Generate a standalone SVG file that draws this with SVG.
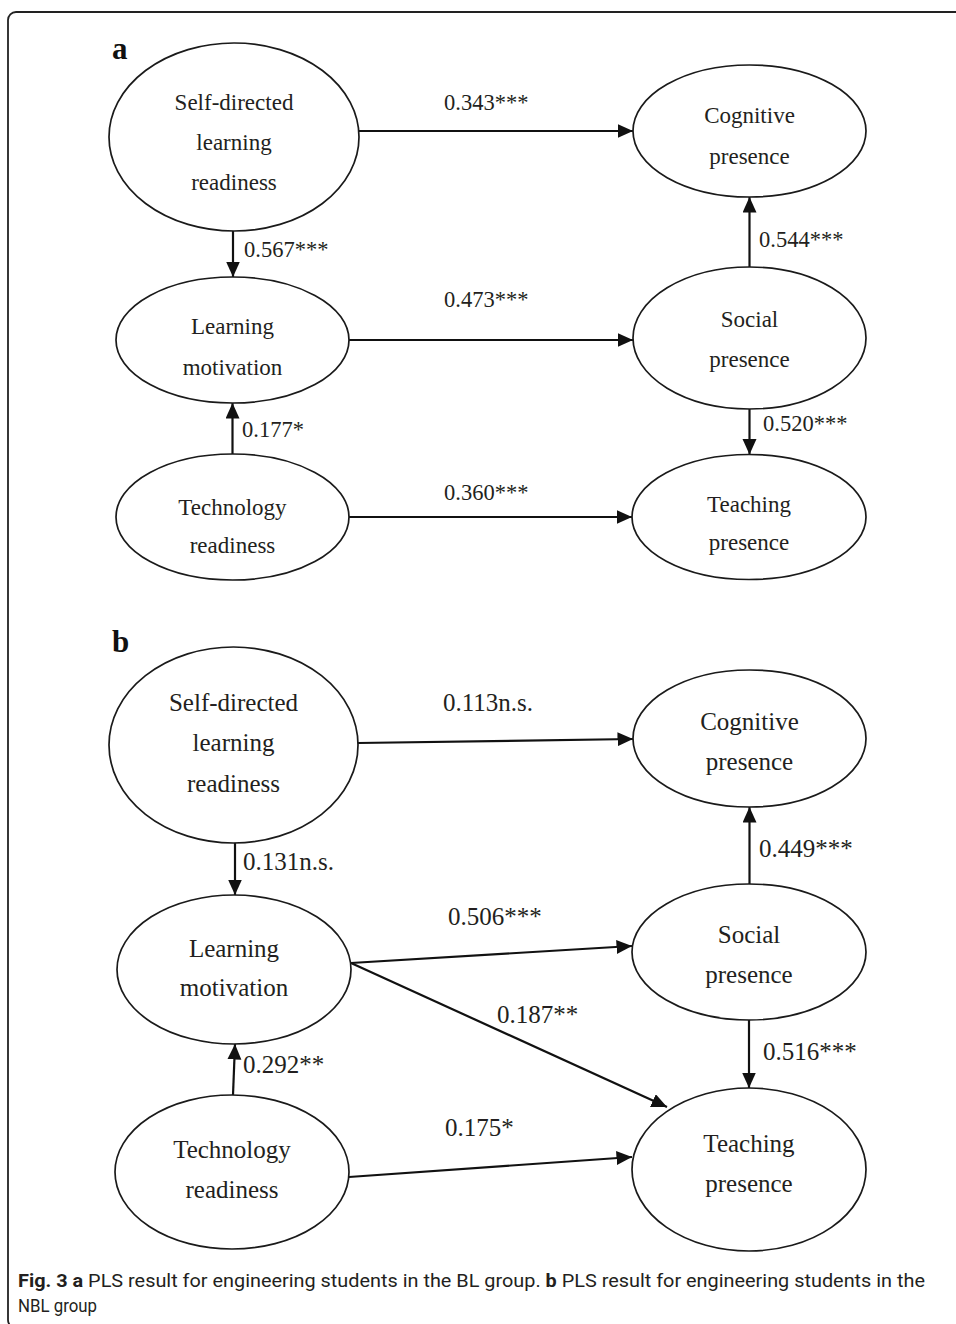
<svg xmlns="http://www.w3.org/2000/svg" width="956" height="1324" viewBox="0 0 956 1324">
<style>
.bg{fill:#ffffff}
.frame{fill:none;stroke:#222222;stroke-width:1.8}
.node{fill:#ffffff;stroke:#1a1a1a;stroke-width:1.7}
.na{font-family:"Liberation Serif","Times New Roman",serif;font-size:23px;fill:#231f20;text-anchor:middle}
.nb{font-family:"Liberation Serif","Times New Roman",serif;font-size:25px;fill:#231f20;text-anchor:middle}
.la{font-family:"Liberation Serif","Times New Roman",serif;font-size:22.5px;fill:#231f20}
.lb{font-family:"Liberation Serif","Times New Roman",serif;font-size:25px;fill:#231f20}
.panel{font-family:"Liberation Serif","Times New Roman",serif;font-size:31px;font-weight:bold;fill:#111111}
.edge{fill:none;stroke:#111111;stroke-width:2.2;marker-end:url(#arr)}
.cap{font-family:Roboto,"Liberation Sans",sans-serif;font-size:18px;fill:#231f20}
</style>
<defs>
<marker id="arr" markerUnits="userSpaceOnUse" markerWidth="17" markerHeight="15" refX="15.5" refY="7" orient="auto">
<path d="M0,0 L15.5,7 L0,14 z" fill="#111111"/>
</marker>
</defs>
<rect class="bg" x="0" y="0" width="956" height="1324"/>
<rect class="frame" x="8" y="12" width="962" height="1316" rx="8" ry="8"/>
<text class="panel" x="112" y="59">a</text>
<text class="panel" x="112" y="652">b</text>

<g id="connectors">
<path class="edge" d="M359,131 L633,131"/>
<path class="edge" d="M233,231 L233,277"/>
<path class="edge" d="M349,340 L633,340"/>
<path class="edge" d="M749.5,267 L749.5,197"/>
<path class="edge" d="M749.5,409 L749.5,454.5"/>
<path class="edge" d="M232.5,454 L232.5,403"/>
<path class="edge" d="M349,517 L632,517"/>

<path class="edge" d="M358,743 L633,739"/>
<path class="edge" d="M235,843 L235,895"/>
<path class="edge" d="M351,963 L632,946"/>
<path class="edge" d="M351,963 L667,1107"/>
<path class="edge" d="M749.5,884 L749.5,807"/>
<path class="edge" d="M749,1020 L749,1088"/>
<path class="edge" d="M233,1095 L235,1044"/>
<path class="edge" d="M349,1177 L632,1157"/>

<text class="la" x="444" y="110">0.343***</text>
<text class="la" x="244" y="257">0.567***</text>
<text class="la" x="759" y="247">0.544***</text>
<text class="la" x="444" y="307">0.473***</text>
<text class="la" x="242" y="437">0.177*</text>
<text class="la" x="763" y="431">0.520***</text>
<text class="la" x="444" y="500">0.360***</text>

<text class="lb" x="443" y="711">0.113n.s.</text>
<text class="lb" x="243" y="870">0.131n.s.</text>
<text class="lb" x="759" y="857">0.449***</text>
<text class="lb" x="448" y="925">0.506***</text>
<text class="lb" x="497" y="1023">0.187**</text>
<text class="lb" x="243" y="1073">0.292**</text>
<text class="lb" x="763" y="1060">0.516***</text>
<text class="lb" x="445" y="1136">0.175*</text>
</g>

<g id="a-self-directed">
<ellipse class="node" cx="234" cy="137" rx="125" ry="94"/>
<text class="na" x="234" y="110">Self-directed</text>
<text class="na" x="234" y="150">learning</text>
<text class="na" x="234" y="190">readiness</text>
</g>
<g id="a-cognitive">
<ellipse class="node" cx="749.5" cy="131" rx="116.5" ry="66"/>
<text class="na" x="749.5" y="123">Cognitive</text>
<text class="na" x="749.5" y="164">presence</text>
</g>
<g id="a-learning">
<ellipse class="node" cx="232.5" cy="340" rx="116.5" ry="63"/>
<text class="na" x="232.5" y="334">Learning</text>
<text class="na" x="232.5" y="375">motivation</text>
</g>
<g id="a-social">
<ellipse class="node" cx="749.5" cy="338" rx="116.5" ry="71"/>
<text class="na" x="749.5" y="327">Social</text>
<text class="na" x="749.5" y="367">presence</text>
</g>
<g id="a-technology">
<ellipse class="node" cx="232.5" cy="517" rx="116.5" ry="63"/>
<text class="na" x="232.5" y="515">Technology</text>
<text class="na" x="232.5" y="553">readiness</text>
</g>
<g id="a-teaching">
<ellipse class="node" cx="749" cy="517" rx="117" ry="62.5"/>
<text class="na" x="749" y="512">Teaching</text>
<text class="na" x="749" y="550">presence</text>
</g>

<g id="b-self-directed">
<ellipse class="node" cx="233.5" cy="745" rx="124.5" ry="98"/>
<text class="nb" x="233.5" y="711">Self-directed</text>
<text class="nb" x="233.5" y="751">learning</text>
<text class="nb" x="233.5" y="792">readiness</text>
</g>
<g id="b-cognitive">
<ellipse class="node" cx="749.5" cy="738.5" rx="116.5" ry="68.5"/>
<text class="nb" x="749.5" y="730">Cognitive</text>
<text class="nb" x="749.5" y="770">presence</text>
</g>
<g id="b-learning">
<ellipse class="node" cx="234" cy="969.5" rx="117" ry="74.5"/>
<text class="nb" x="234" y="957">Learning</text>
<text class="nb" x="234" y="996">motivation</text>
</g>
<g id="b-social">
<ellipse class="node" cx="749" cy="952" rx="117" ry="68"/>
<text class="nb" x="749" y="943">Social</text>
<text class="nb" x="749" y="983">presence</text>
</g>
<g id="b-technology">
<ellipse class="node" cx="232" cy="1172" rx="117" ry="77"/>
<text class="nb" x="232" y="1158">Technology</text>
<text class="nb" x="232" y="1198">readiness</text>
</g>
<g id="b-teaching">
<ellipse class="node" cx="749" cy="1169.5" rx="117" ry="81.5"/>
<text class="nb" x="749" y="1152">Teaching</text>
<text class="nb" x="749" y="1192">presence</text>
</g>

<text class="cap" x="18" y="1287" textLength="907" lengthAdjust="spacingAndGlyphs"><tspan font-weight="bold">Fig. 3 a</tspan> PLS result for engineering students in the BL group. <tspan font-weight="bold">b</tspan> PLS result for engineering students in the</text>
<text class="cap" x="18" y="1312" textLength="79" lengthAdjust="spacingAndGlyphs">NBL group</text>
</svg>
